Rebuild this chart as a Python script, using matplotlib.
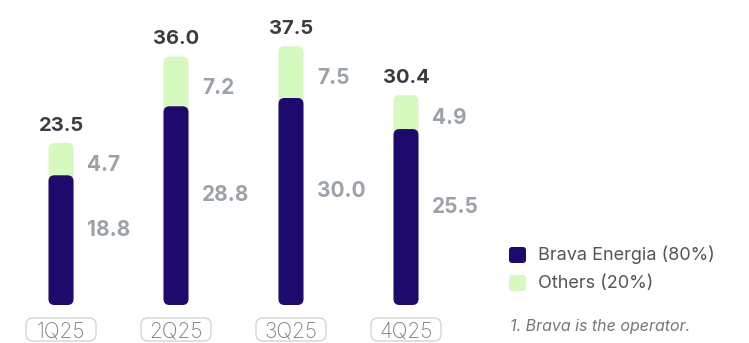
import matplotlib.pyplot as plt
from matplotlib.patches import FancyBboxPatch

quarters = ['1Q25', '2Q25', '3Q25', '4Q25']
brava = [18.8, 28.8, 30.0, 25.5]
others = [4.7, 7.2, 7.5, 4.9]
totals = [23.5, 36.0, 37.5, 30.4]

NAVY = '#1e0a6c'
GREEN = '#d6f9c0'
GRAY = '#9ca2a9'
DARK = '#3c3c3c'

plt.rcParams['font.family'] = ['Inter', 'DejaVu Sans']

fig = plt.figure(figsize=(7.49, 3.43), dpi=100)
ax = fig.add_axes([0, 0, 1, 1])
# 1 x unit = 115 px, 1 y unit = 6.9 px, baseline 38 px above the bottom
px_x, px_y = 115.0, 6.9
ax.set_xlim(-61 / px_x, (749 - 61) / px_x)
ax.set_ylim(-38 / px_y, (343 - 38) / px_y)
ax.axis('off')

bw = 25 / px_x
r = 6 / px_x
aspect = px_x / px_y


def rbox(x0, y0, w, h, rad, **kw):
    p = FancyBboxPatch((x0, y0), w, h,
                       boxstyle='round,pad=0,rounding_size={}'.format(rad),
                       mutation_aspect=aspect, **kw)
    ax.add_patch(p)


for i, q in enumerate(quarters):
    rbox(i - bw / 2, 0, bw, totals[i], r, fc=GREEN, ec='none')
    rbox(i - bw / 2, 0, bw, brava[i], r, fc=NAVY, ec='none')
    ax.text(i, totals[i] + 1.2, '{:.1f}'.format(totals[i]), ha='center', va='bottom',
            fontsize=14.5, fontweight='bold', color=DARK)
    ax.text(i + 26 / px_x, totals[i] - others[i] / 2 - 0.9, '{:.1f}'.format(others[i]),
            ha='left', va='center', fontsize=15, fontweight='bold', color=GRAY)
    ax.text(i + 26 / px_x, brava[i] / 2 + 1.5, '{:.1f}'.format(brava[i]),
            ha='left', va='center', fontsize=15, fontweight='bold', color=GRAY)
    # category label in a rounded outline box
    rbox(i - 35 / px_x, -36 / px_y, 70 / px_x, 23 / px_y, 7 / px_x,
         fc='white', ec='#d4d4d4', lw=1.0)
    ax.text(i, -24.5 / px_y, q, ha='center', va='center_baseline', fontsize=15,
            fontweight='light', color='#7e7e7e')

# legend
for k, (lab, col) in enumerate([('Brava Energia (80%)', NAVY), ('Others (20%)', GREEN)]):
    yc = 343 - 38 - (255 + 28 * k)
    lx = (509 - 61) / px_x
    rbox(lx, (yc - 8) / px_y, 17 / px_x, 16 / px_y, 3 / px_x, fc=col, ec='none')
    ax.text((538 - 61) / px_x, yc / px_y, lab, ha='left', va='center',
            fontsize=13, color='#555555')

ax.text((510 - 61) / px_x, (343 - 38 - 327) / px_y, '1. Brava is the operator.',
        ha='left', va='center', fontsize=11.5, style='italic', color='#777777')

fig.savefig('out.png', dpi=100)
